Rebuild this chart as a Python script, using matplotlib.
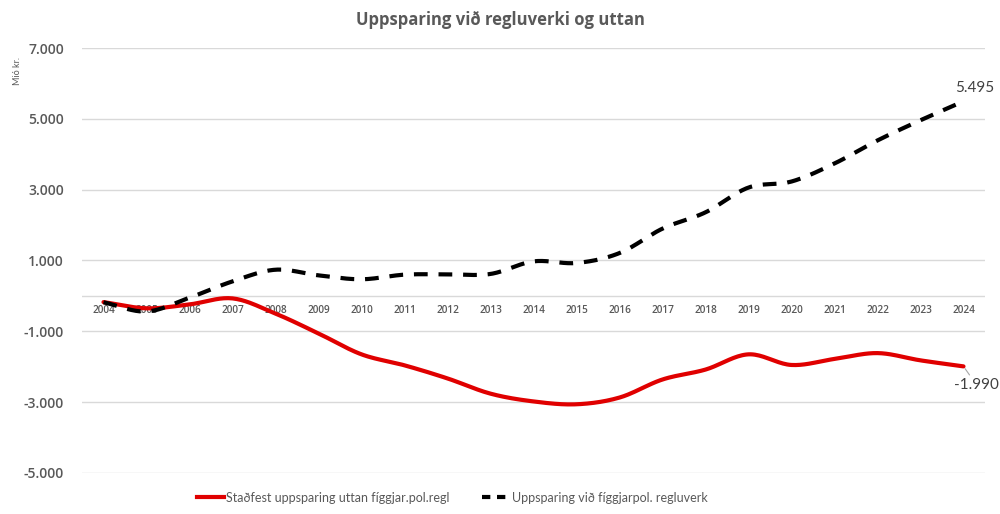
import numpy as np
import matplotlib
matplotlib.use("Agg")
import matplotlib.pyplot as plt
from matplotlib.lines import Line2D

years = list(range(2004, 2025))
year_labels = [str(y) for y in years]
utan = [-175, -350, -240, -70, -500, -1060, -1650, -1960, -2330, -2760, -2980,
        -3060, -2870, -2360, -2080, -1650, -1950, -1780, -1615, -1820, -1990]
vid = [-180, -440, -50, 410, 740, 580, 470, 600, 610, 620, 975,
       930, 1210, 1900, 2360, 3060, 3230, 3740, 4390, 4960, 5495]
name_utan = "Staðfest uppsparing uttan fíggjar.pol.regl"
name_vid = "Uppsparing við fíggjarpol. regluverk"
title = "Uppsparing við regluverki og uttan"
yticks = [-5000, -3000, -1000, 1000, 3000, 5000, 7000]


def smooth(xv, yv, n=20):
    # Catmull-Rom rendering (like Excel's smoothed line)
    x = np.asarray(xv, float); y = np.asarray(yv, float)
    px = np.concatenate([[2 * x[0] - x[1]], x, [2 * x[-1] - x[-2]]])
    py = np.concatenate([[2 * y[0] - y[1]], y, [2 * y[-1] - y[-2]]])
    ox, oy = [], []
    t = np.linspace(0, 1, n, endpoint=False)
    for i in range(1, len(px) - 2):
        for arr, o in ((px, ox), (py, oy)):
            p0, p1, p2, p3 = arr[i - 1], arr[i], arr[i + 1], arr[i + 2]
            o.extend(0.5 * ((2 * p1) + (-p0 + p2) * t + (2 * p0 - 5 * p1 + 4 * p2 - p3) * t ** 2
                            + (-p0 + 3 * p1 - 3 * p2 + p3) * t ** 3))
    ox.append(x[-1]); oy.append(y[-1])
    return np.array(ox), np.array(oy)


plt.rcParams['font.family'] = ['Lato', 'DejaVu Sans']
OPEN = ['Open Sans', 'DejaVu Sans']
fig = plt.figure(figsize=(10, 5.14), dpi=100)
ax = fig.add_axes([0.082, 0.0798, 0.903, 0.8268])
gray = "#595959"

ax.set_ylim(-5000, 7000)
ax.set_xlim(years[0] - 0.5, years[-1] + 0.5)
for yt in yticks:
    ax.axhline(yt, color="#d9d9d9", lw=1, zorder=0)
ax.axhline(0, color="#d9d9d9", lw=1, zorder=0)
ax.set_yticks(yticks)
ax.set_yticklabels([f"{v:,}".replace(",", ".") for v in yticks], fontsize=10,
                   color=gray, fontweight='semibold', family=OPEN)
ax.tick_params(axis='y', length=0, pad=13)
ax.set_xticks([])
for s in ax.spines.values():
    s.set_visible(False)

for yr, lab in zip(years, year_labels):
    ax.text(yr, -400, lab, ha='center', va='center', fontsize=7.2, color=gray,
            fontweight='semibold', family=OPEN, zorder=1)

xs, ys = smooth(years, utan)
ax.plot(xs, ys, color="#e00000", lw=3, solid_capstyle='round', zorder=3)
xs, ys = smooth(years, vid)
ax.plot(xs, ys, color="black", lw=3, ls=(0, (3.3, 2.6)), zorder=4)

ax.annotate(f"{vid[-1]:,}".replace(",", "."), (years[-1], vid[-1]),
            xytext=(years[-1] + 0.25, vid[-1] + 180), ha='center', va='bottom',
            fontsize=11, color="#404040")
ax.annotate(f"{utan[-1]:,}".replace(",", "."), (years[-1], utan[-1]),
            xytext=(years[-1] + 0.3, utan[-1] - 320), ha='center', va='top',
            fontsize=11, color="#404040",
            arrowprops=dict(arrowstyle='-', color='#a6a6a6', lw=0.8,
                            shrinkA=0, shrinkB=2))

fig.text(0.5, 0.962, title, ha='center', va='center', fontsize=12,
         fontweight='bold', color=gray, family=OPEN)
fig.text(0.018, 0.862, "Mió kr.", rotation=90, ha='center', va='center',
         fontsize=6.5, color=gray)

handles = [Line2D([], [], color="#e00000", lw=3),
           Line2D([], [], color="black", lw=3, ls=(0, (2, 1.6)))]
fig.legend(handles, [name_utan, name_vid], loc='center', ncol=2,
           bbox_to_anchor=(0.452, 0.032), frameon=False, fontsize=9,
           labelcolor=gray, handlelength=2.2, handletextpad=0.15,
           columnspacing=2.6)

fig.savefig("out.png", dpi=100, facecolor='white')
